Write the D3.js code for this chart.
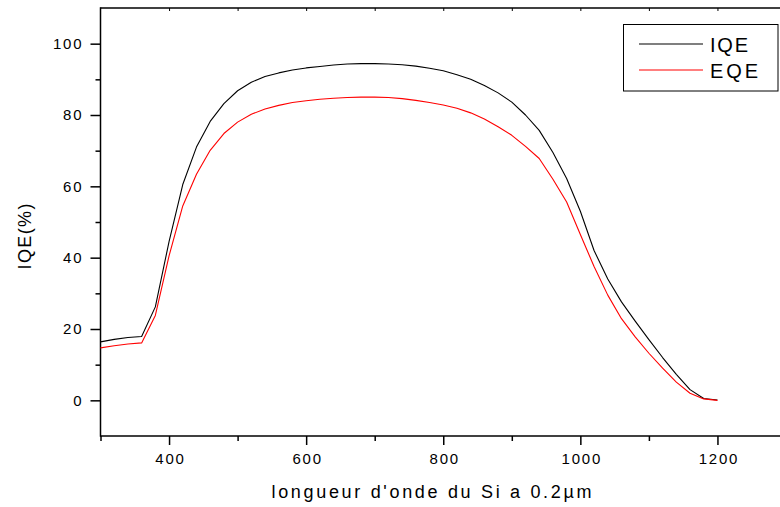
<!DOCTYPE html>
<html>
<head>
<meta charset="utf-8">
<script src="https://cdn.jsdelivr.net/npm/d3@7"></script>
<style>
  html, body { margin: 0; padding: 0; background: #fff; }
  svg { display: block; }
  text { font-family: "Liberation Sans", Arial, sans-serif; fill: #000; }
</style>
</head>
<body>
<svg id="chart" width="780" height="507"></svg>
<script>
// ---- data ----
const wavelength = [300,320,340,360,380,400,420,440,460,480,500,520,540,560,580,600,620,640,660,680,700,720,740,760,780,800,820,840,860,880,900,920,940,960,980,1000,1020,1040,1060,1080,1100,1120,1140,1160,1180,1200];
const iqe = [16.4,17.1,17.6,17.9,26.2,44.5,60.5,71,78.2,83.2,86.8,89.2,90.8,91.8,92.6,93.2,93.6,94.0,94.3,94.4,94.4,94.3,94.1,93.7,93.1,92.4,91.3,90.0,88.3,86.2,83.6,80.0,75.7,69.5,62.2,53,42,34,27.6,22.2,17,12,7.3,3,0.5,0.1];
const eqe = [14.7,15.3,15.8,16.1,23.8,40.5,54.5,63.4,70.1,74.8,78,80.2,81.7,82.7,83.5,84,84.4,84.7,84.9,85.0,85.0,84.9,84.6,84.1,83.5,82.8,81.9,80.6,78.9,76.7,74.3,71.2,67.8,62,55.6,46.5,37.5,29.5,22.9,17.8,13.2,9,5.1,2,0.4,0];
const seriesNames = ["IQE", "EQE"];
const xTicks = [400, 600, 800, 1000, 1200];
const yTicks = [0, 20, 40, 60, 80, 100];
const xTitle = "longueur d'onde du Si a 0.2µm";
const yTitle = "IQE(%)";

// ---- layout ----
const svg = d3.select("#chart");
const x = d3.scaleLinear().domain([300, 1300]).range([100.5, 786]);
const y = d3.scaleLinear().domain([-10, 110]).range([436, 8]);
const colors = ["#000000", "#ff0000"];

const axisStroke = 1.5;

// axes lines
svg.append("line").attr("x1", x(300)).attr("x2", 780).attr("y1", y(-10)).attr("y2", y(-10))
  .attr("stroke", "#000").attr("stroke-width", axisStroke);
svg.append("line").attr("x1", x(300)).attr("x2", 780).attr("y1", y(110)).attr("y2", y(110))
  .attr("stroke", "#000").attr("stroke-width", axisStroke);
svg.append("line").attr("x1", x(300)).attr("x2", x(300)).attr("y1", y(110) - 0.75).attr("y2", y(-10) + 0.75)
  .attr("stroke", "#000").attr("stroke-width", axisStroke);

// bottom axis
const xMinor = d3.range(300, 1300, 100).filter(v => !xTicks.includes(v));
const bottom = d3.axisBottom(x).tickValues(xTicks).tickSize(9).tickPadding(8).tickFormat(d3.format("d"));
const gb = svg.append("g").attr("transform", `translate(0,${y(-10)})`).call(bottom);
gb.select(".domain").remove();
gb.selectAll(".tick line").attr("stroke-width", axisStroke);
gb.selectAll(".tick text").attr("font-size", 15).attr("letter-spacing", 1.8).attr("dx", 1)
  .style("font-family", "'Liberation Sans', Arial, sans-serif");
const gbm = svg.append("g").attr("transform", `translate(0,${y(-10)})`)
  .call(d3.axisBottom(x).tickValues(xMinor).tickSize(5).tickFormat(""));
gbm.select(".domain").remove();
gbm.selectAll(".tick line").attr("stroke-width", axisStroke);

// top axis ticks (small, inward)
const gt = svg.append("g").attr("transform", `translate(0,${y(110)})`)
  .call(d3.axisBottom(x).tickValues(d3.range(400, 1300, 100)).tickSize(3).tickFormat(""));
gt.select(".domain").remove();
gt.selectAll(".tick line").attr("stroke-width", 1);

// left axis
const left = d3.axisLeft(y).tickValues(yTicks).tickSize(10).tickPadding(9).tickFormat(d3.format("d"));
const gl = svg.append("g").attr("transform", `translate(${x(300)},0)`).call(left);
gl.select(".domain").remove();
gl.selectAll(".tick line").attr("stroke-width", axisStroke);
gl.selectAll(".tick text").attr("font-size", 15).attr("letter-spacing", 1.8).attr("dx", 1.8)
  .style("font-family", "'Liberation Sans', Arial, sans-serif");
const yMinor = d3.range(-10, 111, 10).filter(v => !yTicks.includes(v) && v > -10 && v < 110);
const glm = svg.append("g").attr("transform", `translate(${x(300)},0)`)
  .call(d3.axisLeft(y).tickValues(yMinor).tickSize(5).tickFormat(""));
glm.select(".domain").remove();
glm.selectAll(".tick line").attr("stroke-width", axisStroke);

// curves
const data = [iqe, eqe];
const line = d3.line().x((d, i) => x(wavelength[i])).y(d => y(d));
data.forEach((s, k) => {
  svg.append("path").datum(s).attr("d", line)
    .attr("fill", "none").attr("stroke", colors[k]).attr("stroke-width", 1.1)
    .attr("stroke-linejoin", "round");
});

// titles
svg.append("text").attr("x", 431.5).attr("y", 498).attr("text-anchor", "middle")
  .attr("font-size", 18).attr("textLength", 320).attr("lengthAdjust", "spacing").text(xTitle);
svg.append("text").attr("transform", "translate(31,236.5) rotate(-90)").attr("text-anchor", "middle")
  .attr("font-size", 18).attr("textLength", 66).attr("lengthAdjust", "spacing").text(yTitle);

// legend
const lg = svg.append("g");
lg.append("rect").attr("x", 623.5).attr("y", 24.5).attr("width", 154.5).attr("height", 66.5)
  .attr("fill", "#fff").attr("stroke", "#000").attr("stroke-width", 1);
const legendY = [44, 70];
const legendLen = [38, 48];
seriesNames.forEach((n, k) => {
  lg.append("line").attr("x1", 639).attr("x2", 703).attr("y1", legendY[k]).attr("y2", legendY[k])
    .attr("stroke", colors[k]).attr("stroke-width", 1.2);
  lg.append("text").attr("x", 710).attr("y", legendY[k] + 8).attr("font-size", 20)
    .attr("textLength", legendLen[k]).attr("lengthAdjust", "spacing").text(n);
});
</script>
</body>
</html>
